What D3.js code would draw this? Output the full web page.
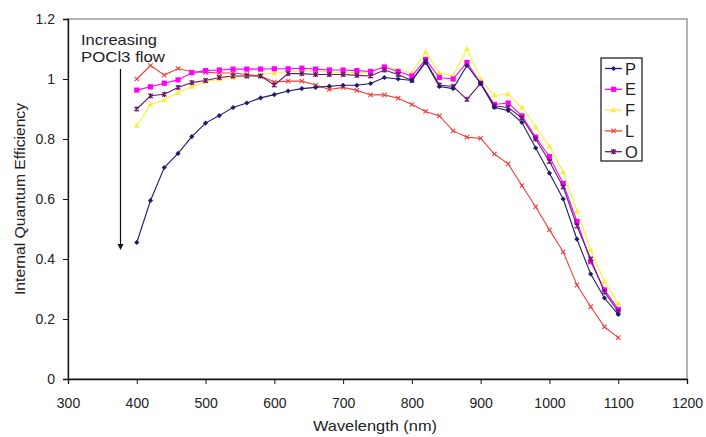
<!DOCTYPE html>
<html><head><meta charset="utf-8">
<script src="https://cdn.jsdelivr.net/npm/d3@7"></script>
<style>body{margin:0;background:#fff}svg{display:block;font-family:"Liberation Sans",Arial,sans-serif}</style>
</head><body><svg id="c" width="706" height="437"></svg>
<script>
const wavelengths = [400,420,440,460,480,500,520,540,560,580,600,620,640,660,680,700,720,740,760,780,800,820,840,860,880,900,920,940,960,980,1000,1020,1040,1060,1080,1100];
const P = [0.455,0.595,0.705,0.752,0.808,0.853,0.878,0.905,0.92,0.937,0.948,0.96,0.968,0.972,0.976,0.979,0.979,0.985,1.005,1.0,0.995,1.055,0.975,0.968,1.045,0.985,0.905,0.895,0.855,0.77,0.686,0.6,0.466,0.35,0.27,0.215];
const E = [0.963,0.974,0.986,0.997,1.021,1.028,1.03,1.033,1.033,1.033,1.034,1.034,1.036,1.033,1.03,1.03,1.028,1.025,1.04,1.025,1.01,1.065,1.005,1.0,1.055,0.986,0.915,0.92,0.877,0.806,0.741,0.652,0.525,0.391,0.297,0.232];
const F = [0.845,0.915,0.93,0.955,0.975,0.99,1.0,1.005,1.01,1.015,1.02,1.025,1.028,1.025,1.025,1.02,1.022,1.02,1.045,1.03,1.02,1.09,1.02,1.01,1.1,1.0,0.945,0.95,0.905,0.84,0.775,0.69,0.56,0.43,0.325,0.252];
const L = [1.0,1.045,1.013,1.035,1.024,1.022,1.02,1.02,1.015,1.01,0.99,0.993,0.993,0.98,0.965,0.972,0.962,0.947,0.947,0.936,0.915,0.892,0.877,0.827,0.806,0.802,0.75,0.717,0.645,0.574,0.497,0.424,0.313,0.241,0.174,0.138];
const O = [0.90,0.944,0.949,0.972,0.988,0.995,1.005,1.01,1.01,1.01,0.98,1.018,1.018,1.015,1.015,1.015,1.012,1.01,1.03,1.015,0.995,1.06,0.98,0.975,0.932,0.985,0.91,0.905,0.87,0.80,0.725,0.64,0.51,0.40,0.29,0.225];
const seriesNames = ["P","E","F","L","O"];
const xTicks = [300,400,500,600,700,800,900,1000,1100,1200];
const yTicks = [0,0.2,0.4,0.6,0.8,1,1.2];
const xTitle = "Wavelength (nm)";
const yTitle = "Internal Quantum Efficiency";
const annotation = ["Increasing","POCl3 flow"];

const series = [
  {name:"P", values:P, color:"#1c1c70", marker:"diamond"},
  {name:"E", values:E, color:"#ff00ff", marker:"square"},
  {name:"F", values:F, color:"#f6ef3a", marker:"triangle"},
  {name:"L", values:L, color:"#f0403c", marker:"cross"},
  {name:"O", values:O, color:"#6b1a6b", marker:"star"}
];

const svg = d3.select("#c");
const pL=68,pR=687,pT=19,pB=379;
const x = d3.scaleLinear().domain([300,1200]).range([pL,pR]);
const y = d3.scaleLinear().domain([0,1.2]).range([pB,pT]);

svg.append("rect").attr("x",pL).attr("y",pT).attr("width",pR-pL).attr("height",pB-pT)
  .attr("fill","none").attr("stroke","#9a9a9a").attr("stroke-width",1.5);

const fmt = d => d===0?"0":(d===1?"1":d3.format(".1f")(d));
const xAxis = svg.append("g").attr("transform",`translate(0,${pB})`)
  .call(d3.axisBottom(x).tickValues(xTicks).tickSize(5).tickPadding(14).tickFormat(d=>d));
const yAxis = svg.append("g").attr("transform",`translate(${pL},0)`)
  .call(d3.axisLeft(y).tickValues(yTicks).tickSize(5).tickPadding(8).tickFormat(fmt));
[xAxis,yAxis].forEach(a=>{
  a.select(".domain").attr("stroke","#111").attr("stroke-width",1.3);
  a.selectAll(".tick line").attr("stroke","#111");
  a.selectAll("text").attr("font-size",14).attr("fill","#222").attr("font-family","Liberation Sans, Arial, sans-serif");
});

svg.append("text").attr("x",375).attr("y",431).attr("text-anchor","middle")
  .attr("font-size",15).attr("fill","#222").attr("textLength",124).attr("lengthAdjust","spacingAndGlyphs").text(xTitle);
svg.append("text").attr("transform",`translate(25,199) rotate(-90)`).attr("text-anchor","middle")
  .attr("font-size",15).attr("fill","#222").attr("textLength",192).attr("lengthAdjust","spacingAndGlyphs").text(yTitle);

svg.append("text").attr("x",81).attr("y",45).attr("font-size",15).attr("fill","#222")
  .attr("textLength",76).attr("lengthAdjust","spacingAndGlyphs").text(annotation[0]);
svg.append("text").attr("x",81).attr("y",62).attr("font-size",15).attr("fill","#222")
  .attr("textLength",84).attr("lengthAdjust","spacingAndGlyphs").text(annotation[1]);
svg.append("line").attr("x1",120.5).attr("x2",120.5).attr("y1",69).attr("y2",246).attr("stroke","#111").attr("stroke-width",1.2);
svg.append("path").attr("d","M117.5,244 L123.5,244 L120.5,250 Z").attr("fill","#111");

const line = d3.line().x((d,i)=>x(wavelengths[i])).y(d=>y(d));

function marker(g, type, cx, cy, color){
  if(type==="diamond"){
    g.append("path").attr("d",`M${cx},${cy-2.6}L${cx+2.6},${cy}L${cx},${cy+2.6}L${cx-2.6},${cy}Z`).attr("fill",color);
  } else if(type==="square"){
    g.append("rect").attr("x",cx-2.6).attr("y",cy-2.6).attr("width",5.2).attr("height",5.2).attr("fill",color);
  } else if(type==="triangle"){
    g.append("path").attr("d",`M${cx},${cy-3}L${cx+3},${cy+2.2}L${cx-3},${cy+2.2}Z`).attr("fill",color);
  } else if(type==="cross"){
    g.append("path").attr("d",`M${cx-2.2},${cy-2.2}L${cx+2.2},${cy+2.2}M${cx-2.2},${cy+2.2}L${cx+2.2},${cy-2.2}`).attr("stroke",color).attr("stroke-width",1.1);
  } else {
    g.append("path").attr("d",`M${cx-2.2},${cy-2.2}L${cx+2.2},${cy+2.2}M${cx-2.2},${cy+2.2}L${cx+2.2},${cy-2.2}M${cx},${cy-2.6}L${cx},${cy+2.6}`).attr("stroke",color).attr("stroke-width",1.3);
  }
}

const order = ["F","L","E","O","P"];
order.forEach(n=>{
  const s = series.find(d=>d.name===n);
  const g = svg.append("g");
  g.append("path").datum(s.values).attr("d",line).attr("fill","none").attr("stroke",s.color).attr("stroke-width",1.1);
  s.values.forEach((v,i)=>marker(g,s.marker,x(wavelengths[i]),y(v),s.color));
});

const lg = svg.append("g");
lg.append("rect").attr("x",601).attr("y",58).attr("width",41).attr("height",103).attr("fill","#fff").attr("stroke","#111").attr("stroke-width",1.2);
series.forEach((s,i)=>{
  const cy = 68.5 + i*20.8;
  lg.append("line").attr("x1",605).attr("x2",622).attr("y1",cy).attr("y2",cy).attr("stroke",s.color).attr("stroke-width",1.3);
  marker(lg,s.marker,613.5,cy,s.color);
  lg.append("text").attr("x",625).attr("y",cy+6).attr("font-size",16.5).attr("fill","#222").text(s.name);
});
</script></body></html>
